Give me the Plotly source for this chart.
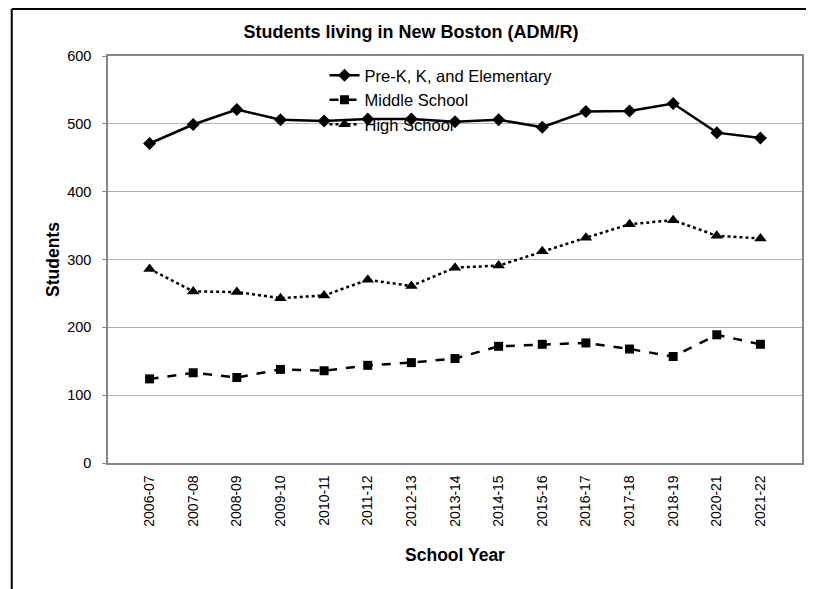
import plotly.graph_objects as go

years = ["2006-07", "2007-08", "2008-09", "2009-10", "2010-11", "2011-12", "2012-13",
         "2013-14", "2014-15", "2015-16", "2016-17", "2017-18", "2018-19", "2020-21", "2021-22"]
elementary = [471, 499, 521, 506, 504, 507, 507, 503, 506, 495, 518, 519, 530, 487, 479]
middle = [124, 133, 126, 138, 136, 144, 148, 154, 172, 175, 177, 168, 157, 189, 175]
high = [286, 253, 252, 243, 247, 270, 261, 288, 291, 312, 332, 352, 358, 335, 331]

FONT = "Liberation Sans"

fig = go.Figure()
fig.add_trace(go.Scatter(
    x=years, y=elementary, name="Pre-K, K, and Elementary", mode="lines+markers",
    line=dict(color="black", width=2.5),
    marker=dict(symbol="diamond", size=10, color="black")))
fig.add_trace(go.Scatter(
    x=years, y=middle, name="Middle School", mode="lines+markers",
    line=dict(color="black", width=2.5, dash="dash"),
    marker=dict(symbol="square", size=9, color="black")))
fig.add_trace(go.Scatter(
    x=years, y=high, name="High School", mode="lines+markers",
    line=dict(color="black", width=2.5, dash="dot"),
    marker=dict(symbol="triangle-up", size=11, color="black")))

fig.update_layout(
    width=806, height=581,
    paper_bgcolor="white", plot_bgcolor="white",
    margin=dict(l=100, r=10, t=48, b=126),
    font=dict(family=FONT, color="black", size=14),
    title=dict(text="<b>Students living in New Boston (ADM/R)</b>", x=0.5, xref="container",
               y=0.9587, yref="container", xanchor="center", yanchor="middle",
               font=dict(size=18, family=FONT)),
    showlegend=True,
    legend=dict(x=0.312, y=0.995, xanchor="left", yanchor="top", bgcolor="rgba(0,0,0,0)",
                font=dict(size=16.5, family=FONT), tracegroupgap=0),
    xaxis=dict(type="category", tickangle=-90, showline=True, linecolor="#868686",
               linewidth=1.5, mirror=True, ticks="", showgrid=False,
               tickfont=dict(size=14, family=FONT), ticklabelstandoff=5,
               title=dict(text="<b>School Year</b>", font=dict(size=17.5, family=FONT), standoff=23)),
    yaxis=dict(range=[0, 600], dtick=100, showline=True, linecolor="#868686", linewidth=1.5,
               mirror=True, gridcolor="#b0b0b0", gridwidth=1, ticks="outside", ticklen=4,
               tickcolor="#868686", tickfont=dict(size=14.5, family=FONT), zeroline=False,
               ticklabelstandoff=8,
               title=dict(text="<b>Students</b>", font=dict(size=17.5, family=FONT), standoff=3)),
)

# outer chart border (top and left edges visible)
fig.add_shape(type="line", xref="paper", yref="paper", x0=-0.1387, x1=1.05, y0=1.1155, y1=1.1155,
              line=dict(color="black", width=2))
fig.add_shape(type="line", xref="paper", yref="paper", x0=-0.1387, x1=-0.1387, y0=1.1155, y1=-0.4,
              line=dict(color="black", width=2))

fig.write_html("out.html")
